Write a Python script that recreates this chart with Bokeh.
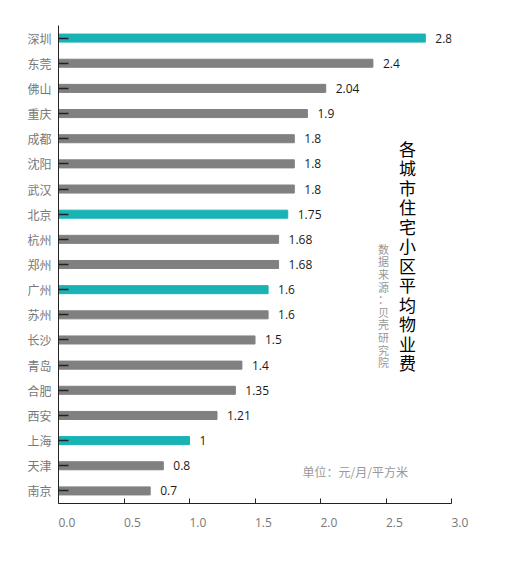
from bokeh.plotting import figure
from bokeh.models import ColumnDataSource, FactorRange, Range1d, LabelSet, Label
from bokeh.core.properties import value
from bokeh.embed import file_html
from bokeh.resources import INLINE

# data, top to bottom as in the picture
cities = ["深圳", "东莞", "佛山", "重庆", "成都", "沈阳", "武汉", "北京", "杭州", "郑州",
          "广州", "苏州", "长沙", "青岛", "合肥", "西安", "上海", "天津", "南京"]
fees = [2.8, 2.4, 2.04, 1.9, 1.8, 1.8, 1.8, 1.75, 1.68, 1.68,
        1.6, 1.6, 1.5, 1.4, 1.35, 1.21, 1.0, 0.8, 0.7]
labels = ["2.8", "2.4", "2.04", "1.9", "1.8", "1.8", "1.8", "1.75", "1.68", "1.68",
          "1.6", "1.6", "1.5", "1.4", "1.35", "1.21", "1", "0.8", "0.7"]
tier1 = ["深圳", "北京", "广州", "上海"]

x_ticks = [0, 0.5, 1.0, 1.5, 2.0, 2.5, 3.0]
x_tick_labels = ["0.0", "0.5", "1.0", "1.5", "2.0", "2.5", "3.0"]

TEAL = "#1ab3b5"
GREY = "#808080"
colors = [TEAL if c in tier1 else GREY for c in cities]

src = ColumnDataSource(dict(city=cities, fee=fees, label=labels, color=colors))

p = figure(width=518, height=553, output_backend="svg", toolbar_location=None,
           y_range=FactorRange(factors=cities[::-1], range_padding=0),
           x_range=Range1d(0, 3.0))
p.min_border_left = 58
p.min_border_right = 67
p.min_border_top = 25
p.min_border_bottom = 50
p.outline_line_color = None
p.grid.grid_line_color = None
p.background_fill_color = "white"

p.hbar(y="city", right="fee", left=0, height=0.32, color="color", source=src)

vals = LabelSet(x="fee", y="city", text="label", source=src, x_offset=10,
                text_baseline="middle", text_font=value("Open Sans"),
                text_font_size="12px", text_color="#1a1a1a")
p.add_layout(vals)

# axes
p.yaxis.major_tick_in = 10
p.yaxis.major_tick_out = 0
p.yaxis.axis_line_color = "#222222"
p.yaxis.major_tick_line_color = "#222222"
p.yaxis.major_tick_line_width = 1.5
p.yaxis.major_label_standoff = 7
p.yaxis.major_label_text_font = "Noto Sans CJK SC"
p.yaxis.major_label_text_font_size = "12px"
p.yaxis.major_label_text_color = "#777777"

# tick labels in the original start at the tick, so pad them on the left
PAD = "\u2007\u2007\u2008"
p.xaxis.ticker = x_ticks
p.xaxis.major_label_overrides = {t: PAD + s for t, s in zip(x_ticks, x_tick_labels)}
p.xaxis.minor_tick_line_color = None
p.xaxis.major_tick_in = 5
p.xaxis.major_tick_out = 0
p.xaxis.axis_line_color = "#222222"
p.xaxis.major_tick_line_color = "#222222"
p.xaxis.major_label_standoff = 10
p.xaxis.major_label_text_font = "Open Sans"
p.xaxis.major_label_text_font_size = "12px"
p.xaxis.major_label_text_color = "#777777"

# vertical title and source
title = Label(x=2.664, y=9.86, text="\n".join("各城市住宅小区平均物业费"),
              text_align="center", text_baseline="middle",
              text_font="Noto Sans CJK SC", text_font_size="17px",
              text_line_height=0.78, text_color="#000000")
p.add_layout(title)

source = Label(x=2.48, y=7.87, text="\n".join("数据来源：贝壳研究院"),
               text_align="center", text_baseline="middle",
               text_font="Noto Sans CJK SC", text_font_size="11px",
               text_line_height=0.79, text_color="#999999")
p.add_layout(source)

unit = Label(x=1.863, y=1.27, text="单位：元/月/平方米",
             text_align="left", text_baseline="middle",
             text_font="Noto Sans CJK SC", text_font_size="12px",
             text_color="#999999")
p.add_layout(unit)

open("out.html", "w").write(file_html(p, INLINE))
